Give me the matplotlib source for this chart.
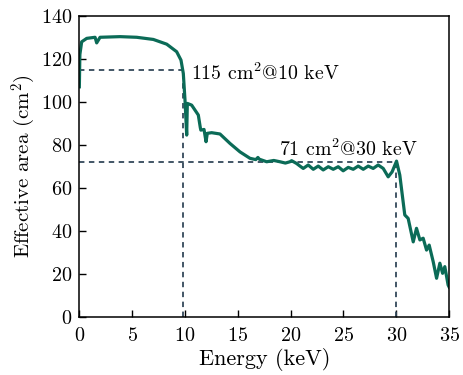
import matplotlib
matplotlib.use("Agg")
import matplotlib.pyplot as plt

plt.rcParams['font.family'] = ['cmr10', 'DejaVu Serif']
plt.rcParams['mathtext.fontset'] = 'cm'
plt.rcParams['axes.unicode_minus'] = False
plt.rcParams['axes.formatter.use_mathtext'] = True

energy = [0.0, 0.05, 0.22, 0.7, 1.49, 1.64, 1.96, 3.85, 5.43, 7.0, 8.27, 9.21, 9.62, 9.84,
          10.0, 10.16, 10.22, 10.63, 11.26, 11.45, 11.5, 11.8, 11.99, 12.11, 12.52, 13.31,
          14.26, 15.2, 16.15, 16.7, 16.9, 17.03, 17.73, 18.4, 18.99, 19.5, 19.93, 20.09,
          20.56, 20.88, 21.19, 21.66, 22.14, 22.61, 23.08, 23.56, 24.03, 24.5, 24.97, 25.45,
          25.92, 26.39, 26.87, 27.34, 27.81, 28.28, 28.76, 29.23, 29.6, 30.02, 30.33, 30.8,
          31.12, 31.6, 31.91, 32.23, 32.54, 32.86, 33.11, 33.49, 33.81, 34.12, 34.38, 34.59,
          34.9, 35.0]
area = [107.0, 122.0, 127.9, 129.5, 130.0, 127.4, 130.0, 130.3, 130.0, 129.0, 126.8, 123.3,
        119.4, 113.2, 100.8, 84.6, 99.3, 98.5, 93.9, 88.0, 86.9, 87.2, 81.5, 85.4, 85.7,
        85.1, 80.7, 76.8, 73.8, 73.2, 74.2, 73.4, 72.2, 72.8, 72.2, 71.6, 72.2, 72.7,
        71.4, 70.2, 69.1, 70.7, 68.7, 70.2, 68.4, 69.9, 68.7, 69.9, 68.0, 69.6,
        68.7, 70.2, 68.7, 70.2, 69.1, 70.7, 69.1, 65.2, 67.5, 72.5, 66.0, 47.5,
        45.9, 35.0, 41.3, 35.9, 36.7, 31.2, 33.5, 25.8, 18.1, 25.1, 20.4, 23.5,
        15.0, 14.0]

marker_x = [9.8, 30.0]
marker_y = [115, 72]
marker_labels = ['115 cm$^2$@10 keV', '71 cm$^2$@30 keV']

fig = plt.figure(figsize=(4.64, 3.75), dpi=100)
ax = fig.add_axes([0.171, 0.154, 0.797, 0.804])

dash_color = '#34495a'
for mx, my in zip(marker_x, marker_y):
    ax.plot([0, mx], [my, my], ls=(0, (3, 2.5)), color=dash_color, lw=1.3)
    ax.plot([mx, mx], [0, my], ls=(0, (3, 2.5)), color=dash_color, lw=1.3)

ax.plot(energy, area, color='#0b6b57', lw=2.3, solid_joinstyle='round')

ax.text(10.6, 113.5, marker_labels[0], fontsize=14.3, va='center', ha='left')
ax.text(18.9, 72.8, marker_labels[1], fontsize=14.3, va='bottom', ha='left')

ax.set_xlim(0, 35)
ax.set_ylim(0, 140)
ax.set_xticks(range(0, 36, 5))
ax.set_yticks(range(0, 141, 20))
ax.tick_params(direction='in', length=5, width=1, labelsize=14.5, top=False, right=False)
ax.tick_params(axis='x', pad=7)
ax.tick_params(axis='y', pad=5)
for s in ax.spines.values():
    s.set_linewidth(1.1)
ax.set_xlabel('Energy (keV)', fontsize=16, labelpad=2)
ax.set_ylabel('Effective area (cm$^2$)', fontsize=15, labelpad=2)

fig.savefig('out.png', dpi=100)
